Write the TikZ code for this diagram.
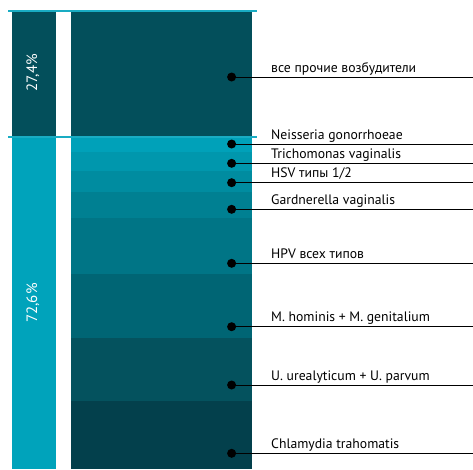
\documentclass[tikz,border=0pt]{standalone}
\usepackage{fontspec}
\setmainfont{PT Sans}
\usetikzlibrary{calc}
\definecolor{petrol}{RGB}{3,79,91}
\definecolor{cyanbar}{RGB}{0,163,187}
\definecolor{cyanline}{RGB}{25,172,195}
\definecolor{segA}{RGB}{0,161,185}
\definecolor{segB}{RGB}{0,151,173}
\definecolor{segC}{RGB}{0,140,160}
\definecolor{segD}{RGB}{0,128,146}
\definecolor{segE}{RGB}{0,117,134}
\definecolor{segF}{RGB}{0,101,116}
\definecolor{segG}{RGB}{4,82,94}
\definecolor{segH}{RGB}{3,64,76}

\begin{document}
\begin{tikzpicture}[x=1pt,y=-1pt,
	dot/.style={circle,fill=black,inner sep=0pt,minimum size=9pt},
	lbl/.style={anchor=base west,inner sep=0pt,font=\fontsize{13.7}{15}\selectfont},
	share/.style={rotate=90,text=white,inner sep=0pt,font=\fontsize{15}{17}\selectfont}]
			%%%%% START %%%%%
			\useasboundingbox (0,0) rectangle (473,469);
			
			% left bar
			\fill[petrol] (12,12) rectangle (56,137);
			\fill[cyanbar] (12,137) rectangle (56,469);
			
			% right bar
			\fill[petrol] (71,12) rectangle (252,137);
			\fill[segA] (71,137) rectangle (252,152);
			\fill[segB] (71,152) rectangle (252,171);
			\fill[segC] (71,171) rectangle (252,192);
			\fill[segD] (71,192) rectangle (252,218);
			\fill[segE] (71,218) rectangle (252,274);
			\fill[segF] (71,274) rectangle (252,338);
			\fill[segG] (71,338) rectangle (252,401);
			\fill[segH] (71,401) rectangle (252,469);
			
			\draw[cyanline, line width=1.6pt] (8,10.8) -- (257,10.8);
			\draw[cyanline, line width=1.6pt] (8,136.7) -- (257,136.7);
			
			\node[share] (shareTop) at (33,73) {27,4\%};
			\node[share] (shareBot) at (33,303) {72,6\%};
			
			\foreach \y/\txt [count=\i] in {77/все прочие возбудители,
				144/Neisseria gonorrhoeae,
				163.3/Trichomonas vaginalis,
				182.7/{HSV типы 1/2},
				209.3/Gardnerella vaginalis,
				263.3/HPV всех типов,
				326.7/M. hominis + M. genitalium,
				385/U. urealyticum + U. parvum,
				453.3/Chlamydia trahomatis}
			{
				\node[dot] (dot\i) at (231.6,\y) {};
				\coordinate (end\i) at (473,\y);
				\draw[line width=1pt] (dot\i.center) -- (end\i);
				\node[lbl] (lbl\i) at (271,\y-5) {\txt};
			}
			
			%%%%% END %%%%%
\end{tikzpicture}
\end{document}
